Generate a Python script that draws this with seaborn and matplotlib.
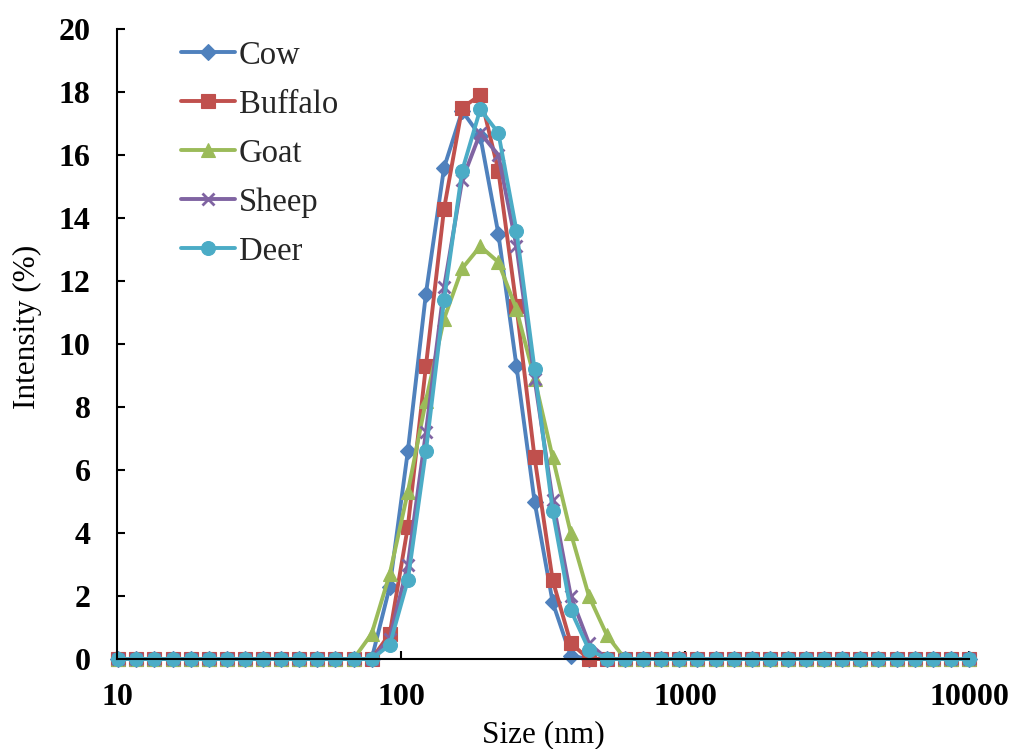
import matplotlib
matplotlib.use("Agg")
import matplotlib.pyplot as plt
from matplotlib.ticker import FixedLocator, FixedFormatter, NullLocator
import seaborn as sns
import pandas as pd

# Particle size bins (nm)
sizes = [10.1, 11.7, 13.54, 15.69, 18.17, 21.04, 24.36, 28.21, 32.67, 37.84,
         43.82, 50.75, 58.77, 68.06, 78.82, 91.28, 105.7, 122.4, 141.8, 164.2,
         190.1, 220.2, 255.0, 295.3, 342.0, 396.1, 458.7, 531.2, 615.1, 712.4,
         825.0, 955.4, 1106, 1281, 1484, 1718, 1990, 2305, 2669, 3091,
         3580, 4145, 4801, 5560, 6439, 7456, 8635, 10000]

# Intensity (%) per bin, non-zero region starting at 68.06 nm
lead = [0.0] * 14
cow     = lead + [0.0, 2.3, 6.6, 11.6, 15.6, 17.4, 16.6, 13.5, 9.3, 5.0, 1.8, 0.1, 0.0, 0.0, 0.0]
buffalo = lead + [0.0, 0.8, 4.2, 9.3, 14.3, 17.5, 17.9, 15.5, 11.2, 6.4, 2.5, 0.5, 0.0, 0.0, 0.0]
goat    = lead + [0.8, 2.7, 5.3, 8.2, 10.8, 12.4, 13.1, 12.6, 11.1, 8.9, 6.4, 4.0, 2.0, 0.75, 0.0]
sheep   = lead + [0.0, 0.65, 3.0, 7.2, 11.8, 15.2, 16.7, 16.0, 13.1, 8.9, 5.05, 2.0, 0.5, 0.0, 0.0]
deer    = lead + [0.0, 0.45, 2.5, 6.6, 11.4, 15.5, 17.45, 16.7, 13.6, 9.2, 4.7, 1.55, 0.3, 0.0, 0.0]

series_names = ["Cow", "Buffalo", "Goat", "Sheep", "Deer"]
series_vals = [cow, buffalo, goat, sheep, deer]
for v in series_vals:
    v.extend([0.0] * (len(sizes) - len(v)))

colors = ["#4F81BD", "#C0504D", "#9BBB59", "#8064A2", "#4BACC6"]
markers = ["D", "s", "^", "x", "o"]
msizes = [8, 9.5, 10, 9, 10]

x_ticks = [10, 100, 1000, 10000]
x_ticklabels = ["10", "100", "1000", "10000"]
y_ticks = list(range(0, 21, 2))

sns.set_theme(style="white")
plt.rcParams["font.family"] = ["Liberation Serif", "DejaVu Serif"]

fig = plt.figure(figsize=(10.13, 7.49), dpi=100)
ax = fig.add_axes([117 / 1013, 1 - 659 / 749, (969 - 117) / 1013, (659 - 29) / 749])

for name, vals, c, m, ms in zip(series_names, series_vals, colors, markers, msizes):
    df = pd.DataFrame({"size": sizes, "intensity": vals})
    sns.lineplot(data=df, x="size", y="intensity", ax=ax, color=c, linewidth=2.8,
                 marker=m, markersize=ms, markeredgecolor=c,
                 markeredgewidth=2.0 if m == "x" else 0.8,
                 label=name, clip_on=False, estimator=None)

ax.set_xscale("log")
ax.set_xlim(10, 10000)
ax.set_ylim(0, 20)
ax.xaxis.set_major_locator(FixedLocator(x_ticks))
ax.xaxis.set_major_formatter(FixedFormatter(x_ticklabels))
ax.xaxis.set_minor_locator(NullLocator())
ax.yaxis.set_major_locator(FixedLocator(y_ticks))

for s in ["top", "right"]:
    ax.spines[s].set_visible(False)
for s in ["left", "bottom"]:
    ax.spines[s].set_color("black")
    ax.spines[s].set_linewidth(1.5)

ax.tick_params(axis="both", which="major", direction="in", length=6, width=1.5,
               color="black", labelsize=23, labelcolor="black",
               left=True, bottom=True)
ax.tick_params(axis="x", pad=17)
ax.tick_params(axis="y", pad=19)
for lbl in ax.get_xticklabels() + ax.get_yticklabels():
    lbl.set_fontweight("bold")

ax.set_xlabel("Size (nm)", fontsize=22.5, color="black", labelpad=6)
ax.set_ylabel("Intensity (%)", fontsize=22.5, color="black", labelpad=12)
ax.yaxis.label.set_y(0.527)

leg = ax.legend(loc="upper left", bbox_to_anchor=(181 / 1013, 1 - 40 / 749),
                bbox_transform=fig.transFigure, frameon=False, fontsize=23.5,
                handlelength=1.66, handletextpad=0.12, labelspacing=0.57,
                borderpad=0, borderaxespad=0)

fig.savefig("out.png", dpi=100)
